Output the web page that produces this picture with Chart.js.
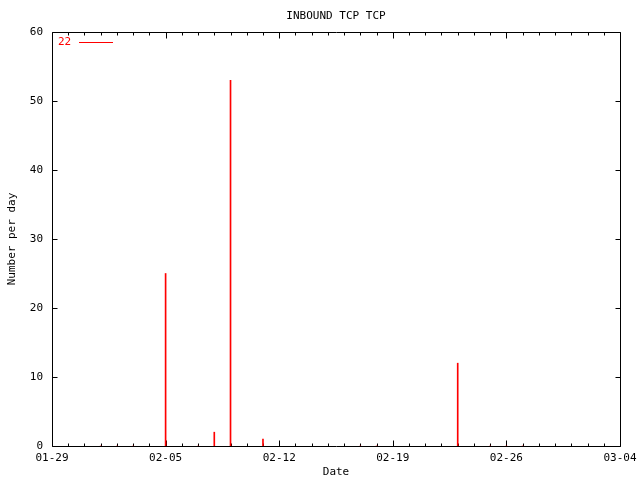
<!DOCTYPE html>
<html>
<head>
<meta charset="utf-8">
<script src="https://cdn.jsdelivr.net/npm/chart.js@4.4.0/dist/chart.umd.min.js"></script>
<style>
  html, body { margin: 0; padding: 0; background: #fff; }
  canvas { display: block; }
</style>
</head>
<body>
<canvas id="chart" width="640" height="480"></canvas>
<script>
// data: day offset from 01-29 -> count per day
const dayOffsets = [3, 4, 5, 7, 9, 10, 11, 13, 19, 20, 25, 27, 28, 29];
const counts     = [0, 0, 0, 25, 0, 2, 53, 1, 0, 0, 12, 0, 0, 0];
const dateLabels = ['01-29', '02-05', '02-12', '02-19', '02-26', '03-04'];
const seriesName = '22';

const FONT = { family: '"DejaVu Sans Mono", monospace', size: 11 };
const RED = '#ff0000';

const points = dayOffsets.map((d, i) => ({ x: d, y: counts[i] }));

// gnuplot style frame: border, inward ticks, title and key inside the plot
const gnuFrame = {
    id: 'gnuFrame',
    beforeDatasetsDraw(chart) {
        const { ctx, chartArea: a, scales } = chart;
        const L = Math.round(a.left) + 0.5, R = Math.round(a.right) + 0.5;
        const T = Math.round(a.top) + 0.5, B = Math.round(a.bottom) + 0.5;
        ctx.save();
        ctx.strokeStyle = '#000';
        ctx.lineWidth = 1;
        ctx.beginPath();
        ctx.rect(L, T, R - L, B - T);
        // x ticks every day, bigger every week
        for (let v = 0; v <= 35; v++) {
            const px = Math.round(scales.x.getPixelForValue(v)) + 0.5;
            const len = v % 7 === 0 ? 6 : 3;
            ctx.moveTo(px, B); ctx.lineTo(px, B - len);
            ctx.moveTo(px, T); ctx.lineTo(px, T + len);
        }
        for (let v = 0; v <= 60; v += 10) {
            const py = Math.round(scales.y.getPixelForValue(v)) + 0.5;
            ctx.moveTo(L, py); ctx.lineTo(L + 5, py);
            ctx.moveTo(R, py); ctx.lineTo(R - 5, py);
        }
        ctx.stroke();
        ctx.restore();
    },
    afterDraw(chart) {
        const { ctx, chartArea: a } = chart;
        ctx.save();
        // title
        ctx.font = `${FONT.size}px ${FONT.family}`;
        ctx.fillStyle = '#000';
        ctx.textAlign = 'center';
        ctx.textBaseline = 'middle';
        ctx.fillText('INBOUND TCP TCP', (a.left + a.right) / 2, 16);

        // key
        const ds = chart.data.datasets[0];
        ctx.fillStyle = ds.backgroundColor;
        ctx.textAlign = 'left';
        ctx.fillText(ds.label, a.left + 6, 42);
        ctx.strokeStyle = ds.backgroundColor;
        ctx.lineWidth = 1;
        ctx.beginPath();
        ctx.moveTo(a.left + 27, 42.5);
        ctx.lineTo(a.left + 61, 42.5);
        ctx.stroke();
        ctx.restore();
    }
};

new Chart(document.getElementById('chart'), {
    type: 'bar',
    data: {
        datasets: [{
            label: seriesName,
            data: points,
            backgroundColor: RED,
            borderWidth: 0,
            barThickness: 1,
            grouped: false
        }]
    },
    options: {
        responsive: false,
        animation: false,
        layout: { padding: { top: 32, right: 20, left: 0, bottom: 0 } },
        plugins: {
            legend: { display: false },
            title: { display: false },
            tooltip: { enabled: false }
        },
        scales: {
            x: {
                type: 'linear',
                min: 0,
                max: 35,
                offset: false,
                grid: { display: false, drawTicks: false, offset: false },
                border: { display: false },
                ticks: {
                    stepSize: 7,
                    autoSkip: false,
                    maxRotation: 0,
                    padding: 6,
                    color: '#000',
                    font: FONT,
                    callback: (v) => dateLabels[v / 7]
                },
                title: {
                    display: true,
                    text: 'Date',
                    color: '#000',
                    font: FONT,
                    padding: { top: 0, bottom: 1 }
                },
                afterFit: (s) => {
                    s.height = 34;
                    s.paddingLeft = 0;
                    s.paddingRight = 0;
                }
            },
            y: {
                min: 0,
                max: 60,
                grid: { display: false, drawTicks: false },
                border: { display: false },
                ticks: {
                    stepSize: 10,
                    padding: 9,
                    color: '#000',
                    font: FONT
                },
                title: {
                    display: true,
                    text: 'Number per day',
                    color: '#000',
                    font: FONT,
                    padding: { top: 6, bottom: 0 }
                },
                afterFit: (s) => { s.width = 52; }
            }
        }
    },
    plugins: [gnuFrame]
});
</script>
</body>
</html>
